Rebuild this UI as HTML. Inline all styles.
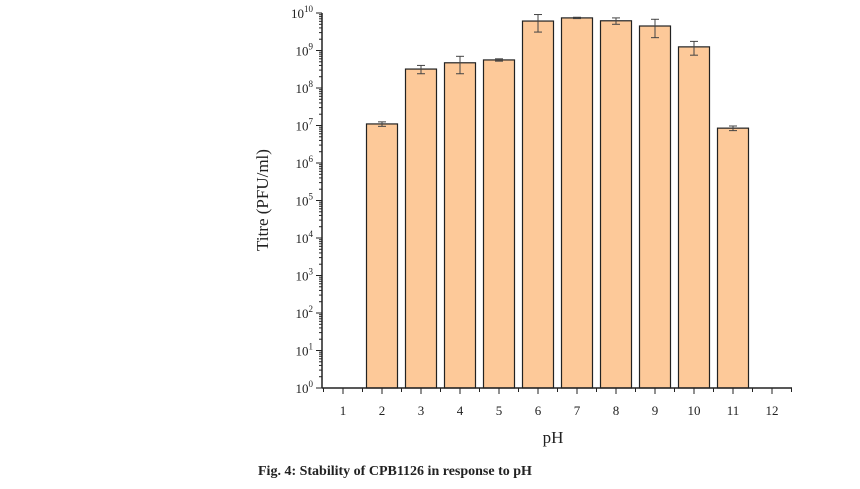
<!DOCTYPE html>
<html><head><meta charset="utf-8"><style>
body{margin:0;background:#fff;width:860px;height:484px;overflow:hidden}
svg text{font-family:"Liberation Serif",serif;fill:#222}
</style></head><body>
<svg width="860" height="484">
<g id="plot"></g>
<text x="268" y="200" font-size="17" text-anchor="middle" transform="rotate(-90 268 200)">Titre (PFU/ml)</text>
<text x="553" y="443" font-size="17" text-anchor="middle">pH</text>
<text x="258" y="475" font-size="14" font-weight="bold">Fig. 4: Stability of CPB1126 in response to pH</text>
</svg>
<script>
const categories=["1","2","3","4","5","6","7","8","9","10","11","12"];
const titres=[1,1.1e7,3.2e8,4.7e8,5.6e8,6.1e9,7.4e9,6.2e9,4.5e9,1.25e9,8.5e6,1];
const errors=[0,1.5e6,0.8e8,2.3e8,0.4e8,3e9,0.3e9,1.2e9,2.3e9,0.5e9,1.2e6,0];
const yTickExps=[0,1,2,3,4,5,6,7,8,9,10];
const NS="http://www.w3.org/2000/svg";
const g=document.getElementById('plot');
const x0=322,x1=792,y0=388,dec=37.5,step=39,first=343,bw=31;
const xs=i=>first+i*step;
const ys=v=>y0-Math.log10(Math.max(v,1))*dec;
function mk(t,a,p){const e=document.createElementNS(NS,t);for(const k in a)e.setAttribute(k,a[k]);(p||g).appendChild(e);return e;}
categories.forEach((c,i)=>{
 const v=titres[i];
 if(v>1){
  const r=mk('rect',{x:xs(i)-bw/2,y:ys(v),width:bw,height:y0-ys(v),fill:'#fdc999',stroke:'#222','stroke-width':1.2});
  
  
  const e=errors[i];
  if(e>0){
   const hi=ys(v+e),lo=ys(Math.max(v-e,1));
   const eg=mk('g',{stroke:'#444','stroke-width':1});
   
   
   mk('line',{x1:xs(i),x2:xs(i),y1:hi,y2:lo},eg);
   mk('line',{x1:xs(i)-4,x2:xs(i)+4,y1:hi,y2:hi},eg);
   mk('line',{x1:xs(i)-4,x2:xs(i)+4,y1:lo,y2:lo},eg);
  }
 }
 const t=mk('line',{x1:xs(i),x2:xs(i),y1:y0,y2:y0+6,stroke:'#222'});
 
 
 mk('line',{x1:xs(i)+step/2,x2:xs(i)+step/2,y1:y0,y2:y0+4,stroke:'#222'});
 const l=mk('text',{x:xs(i),y:y0+27,'font-size':13,'text-anchor':'middle'});
 l.textContent=c;
 
 
});
mk('line',{x1:xs(0)-step/2,x2:xs(0)-step/2,y1:y0,y2:y0+4,stroke:'#222'});
const xa=mk('line',{x1:x0,x2:x1,y1:y0,y2:y0,stroke:'#222','stroke-width':1.5});


const ya=mk('line',{x1:x0,x2:x0,y1:y0,y2:y0-10*dec,stroke:'#222','stroke-width':1.5});


yTickExps.forEach(p=>{
 const y=ys(Math.pow(10,p));
 mk('line',{x1:x0-6,x2:x0,y1:y,y2:y,stroke:'#222'});
 if(p<10)for(let m=2;m<10;m++){const yy=y0-(p+Math.log10(m))*dec;mk('line',{x1:x0-3,x2:x0,y1:yy,y2:yy,stroke:'#222'});}
 const t=mk('text',{x:x0-9,y:y+5,'font-size':13,'text-anchor':'end'});
 t.innerHTML='10<tspan dy="-6" font-size="9">'+p+'</tspan>';
 
 
});
</script>
</body></html>
